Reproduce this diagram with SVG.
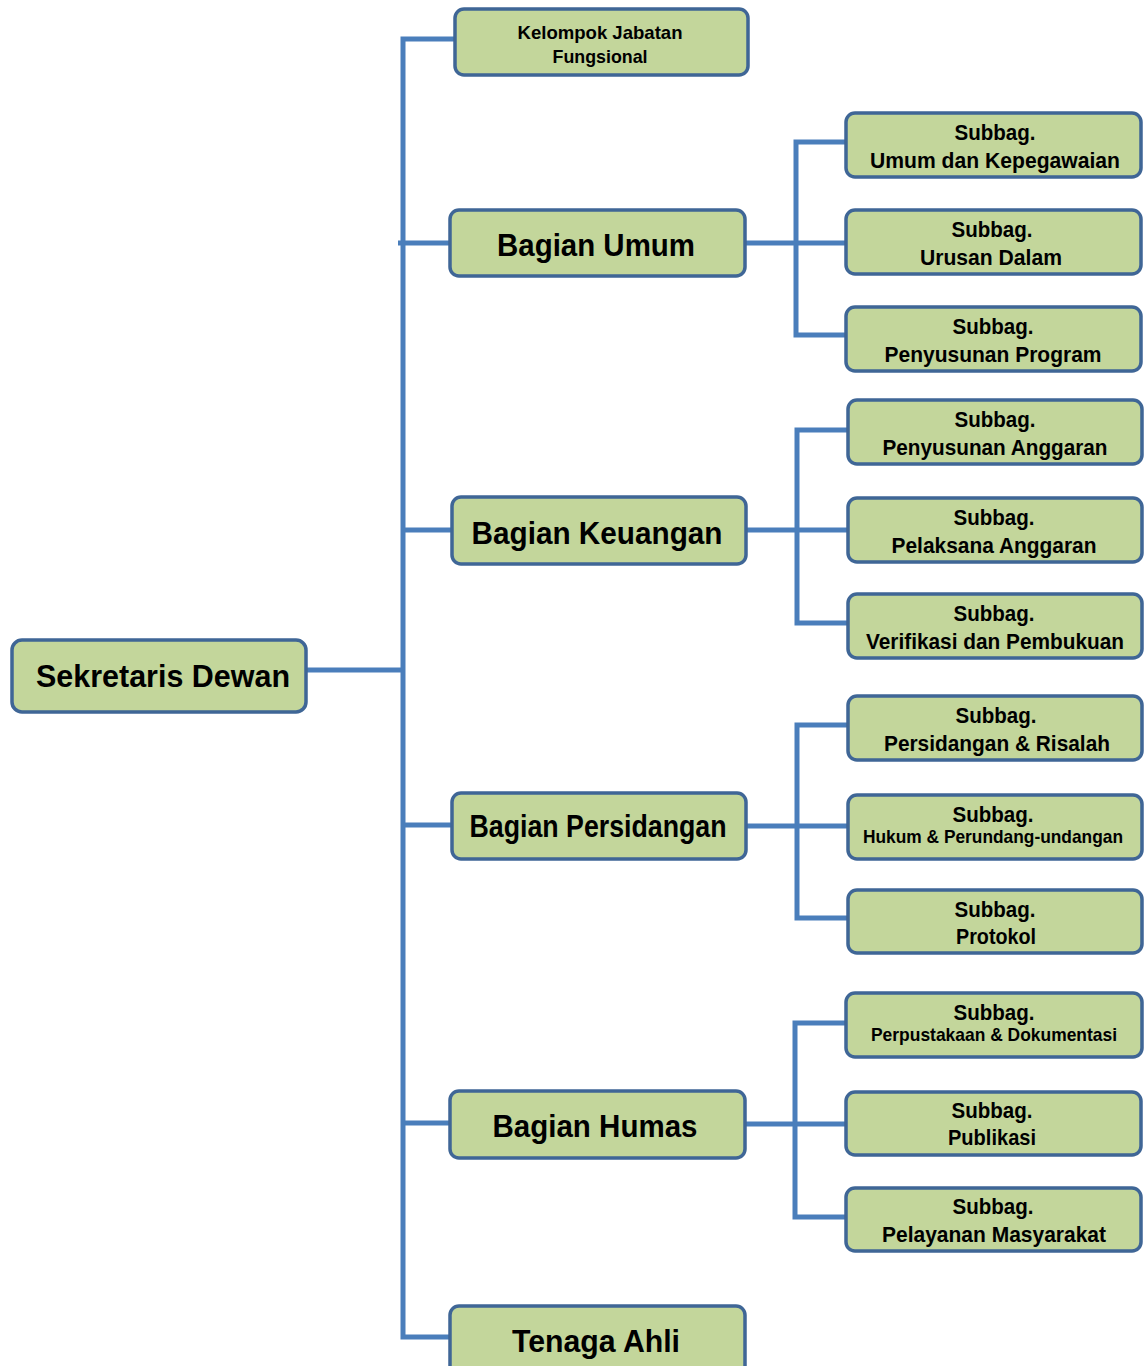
<svg xmlns="http://www.w3.org/2000/svg" width="1146" height="1366" viewBox="0 0 1146 1366">
<style>
.box{fill:#c3d69b;stroke:#3f6696;stroke-width:3.5}
.con{fill:none;stroke:#4a7ebb;stroke-width:5;stroke-linejoin:miter}
text{font-family:"Liberation Sans",Arial,sans-serif;font-weight:bold;fill:#000;text-anchor:middle}
.big{font-size:32px}
.sub{font-size:22px}
.sm{font-size:19px}
</style>
<rect width="1146" height="1366" fill="#fff"/>
<g id="connectors">
<path class="con" d="M306,670 H402"/>
<path class="con" d="M455,39 H403 V1337 H451"/>
<path class="con" d="M398,243 H451"/>
<path class="con" d="M402,530 H453"/>
<path class="con" d="M402,825 H453"/>
<path class="con" d="M402,1123 H451"/>
<path class="con" d="M745,243 H847"/>
<path class="con" d="M847,142 H796 V335 H847"/>
<path class="con" d="M746,530 H849"/>
<path class="con" d="M849,430 H797 V623 H849"/>
<path class="con" d="M746,826 H849"/>
<path class="con" d="M849,725 H797 V918 H849"/>
<path class="con" d="M745,1124 H847"/>
<path class="con" d="M847,1023 H795 V1217 H847"/>
</g>
<g id="sekretaris-dewan"><rect class="box" x="12" y="640" width="294" height="72" rx="10"/><text class="big" x="163" y="687" textLength="254" lengthAdjust="spacingAndGlyphs">Sekretaris Dewan</text></g>
<g id="kelompok-jabatan-fungsional"><rect class="box" x="455" y="9" width="293" height="66" rx="9"/><text class="sm" x="600" y="39" textLength="165" lengthAdjust="spacingAndGlyphs">Kelompok Jabatan</text><text class="sm" x="600" y="63" textLength="95" lengthAdjust="spacingAndGlyphs">Fungsional</text></g>
<g id="bagian-umum"><rect class="box" x="450" y="210" width="295" height="66" rx="9"/><text class="big" x="596" y="256" textLength="198" lengthAdjust="spacingAndGlyphs">Bagian Umum</text></g>
<g id="bagian-keuangan"><rect class="box" x="452" y="497" width="294" height="67" rx="9"/><text class="big" x="597" y="544" textLength="251" lengthAdjust="spacingAndGlyphs">Bagian Keuangan</text></g>
<g id="bagian-persidangan"><rect class="box" x="452" y="793" width="294" height="66" rx="9"/><text class="big" x="598" y="837" textLength="257" lengthAdjust="spacingAndGlyphs">Bagian Persidangan</text></g>
<g id="bagian-humas"><rect class="box" x="450" y="1091" width="295" height="67" rx="9"/><text class="big" x="595" y="1137" textLength="205" lengthAdjust="spacingAndGlyphs">Bagian Humas</text></g>
<g id="tenaga-ahli"><rect class="box" x="450" y="1306" width="295" height="80" rx="9"/><text class="big" x="596" y="1352" textLength="168" lengthAdjust="spacingAndGlyphs">Tenaga Ahli</text></g>
<g id="subbag-umum-kepegawaian"><rect class="box" x="846" y="113" width="295" height="64" rx="9"/><text class="sub" x="995" y="140" textLength="81" lengthAdjust="spacingAndGlyphs">Subbag.</text><text class="sub" x="995" y="168" textLength="250" lengthAdjust="spacingAndGlyphs">Umum dan Kepegawaian</text></g>
<g id="subbag-urusan-dalam"><rect class="box" x="846" y="210" width="295" height="64" rx="9"/><text class="sub" x="992" y="237" textLength="81" lengthAdjust="spacingAndGlyphs">Subbag.</text><text class="sub" x="991" y="265" textLength="142" lengthAdjust="spacingAndGlyphs">Urusan Dalam</text></g>
<g id="subbag-penyusunan-program"><rect class="box" x="846" y="307" width="295" height="64" rx="9"/><text class="sub" x="993" y="334" textLength="81" lengthAdjust="spacingAndGlyphs">Subbag.</text><text class="sub" x="993" y="362" textLength="217" lengthAdjust="spacingAndGlyphs">Penyusunan Program</text></g>
<g id="subbag-penyusunan-anggaran"><rect class="box" x="848" y="400" width="294" height="64" rx="9"/><text class="sub" x="995" y="427" textLength="81" lengthAdjust="spacingAndGlyphs">Subbag.</text><text class="sub" x="995" y="455" textLength="225" lengthAdjust="spacingAndGlyphs">Penyusunan Anggaran</text></g>
<g id="subbag-pelaksana-anggaran"><rect class="box" x="848" y="498" width="294" height="64" rx="9"/><text class="sub" x="994" y="525" textLength="81" lengthAdjust="spacingAndGlyphs">Subbag.</text><text class="sub" x="994" y="553" textLength="205" lengthAdjust="spacingAndGlyphs">Pelaksana Anggaran</text></g>
<g id="subbag-verifikasi-pembukuan"><rect class="box" x="848" y="594" width="294" height="64" rx="9"/><text class="sub" x="994" y="621" textLength="81" lengthAdjust="spacingAndGlyphs">Subbag.</text><text class="sub" x="995" y="649" textLength="258" lengthAdjust="spacingAndGlyphs">Verifikasi dan Pembukuan</text></g>
<g id="subbag-persidangan-risalah"><rect class="box" x="848" y="696" width="294" height="64" rx="9"/><text class="sub" x="996" y="723" textLength="81" lengthAdjust="spacingAndGlyphs">Subbag.</text><text class="sub" x="997" y="751" textLength="226" lengthAdjust="spacingAndGlyphs">Persidangan &amp; Risalah</text></g>
<g id="subbag-hukum"><rect class="box" x="848" y="795" width="294" height="64" rx="9"/><text class="sub" x="993" y="822" textLength="81" lengthAdjust="spacingAndGlyphs">Subbag.</text><text class="sm" x="993" y="843" textLength="260" lengthAdjust="spacingAndGlyphs">Hukum &amp; Perundang-undangan</text></g>
<g id="subbag-protokol"><rect class="box" x="848" y="890" width="294" height="63" rx="9"/><text class="sub" x="995" y="917" textLength="81" lengthAdjust="spacingAndGlyphs">Subbag.</text><text class="sub" x="996" y="944" textLength="80" lengthAdjust="spacingAndGlyphs">Protokol</text></g>
<g id="subbag-perpustakaan"><rect class="box" x="846" y="993" width="296" height="64" rx="9"/><text class="sub" x="994" y="1020" textLength="81" lengthAdjust="spacingAndGlyphs">Subbag.</text><text class="sm" x="994" y="1041" textLength="246" lengthAdjust="spacingAndGlyphs">Perpustakaan &amp; Dokumentasi</text></g>
<g id="subbag-publikasi"><rect class="box" x="846" y="1092" width="295" height="63" rx="9"/><text class="sub" x="992" y="1118" textLength="81" lengthAdjust="spacingAndGlyphs">Subbag.</text><text class="sub" x="992" y="1145" textLength="88" lengthAdjust="spacingAndGlyphs">Publikasi</text></g>
<g id="subbag-pelayanan-masyarakat"><rect class="box" x="846" y="1188" width="295" height="63" rx="9"/><text class="sub" x="993" y="1214" textLength="81" lengthAdjust="spacingAndGlyphs">Subbag.</text><text class="sub" x="994" y="1242" textLength="224" lengthAdjust="spacingAndGlyphs">Pelayanan Masyarakat</text></g>
</svg>
